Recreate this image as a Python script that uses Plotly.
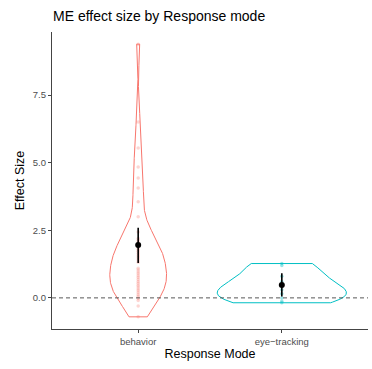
import numpy as np
import plotly.graph_objects as go

# ---- data ----
categories = ["behavior", "eye\u2212tracking"]
behavior_vals = [9.38, 6.5, 5.54, 4.84, 4.43, 4.06, 3.55, 3.0, 2.44,
                 2.2, 2.12, 2.04, 1.96, 1.88, 1.8, 1.72, 1.64, 1.56, 1.48,
                 1.4, 1.32,
                 1.1, 1.03, 0.96, 0.89, 0.82, 0.75, 0.68, 0.61, 0.54, 0.47,
                 0.4, 0.33, 0.26, 0.19, 0.12, 0.05, -0.02, -0.1,
                 -0.3, -0.7]
eye_vals = [1.27, 1.2, 0.8, 0.6, 0.45, 0.3, 0.15, 0.0, -0.12, -0.18]
mean_vals = [1.96, 0.48]
ci_low = [1.29, 0.05]
ci_high = [2.59, 0.91]
y_ticks = [0.0, 2.5, 5.0, 7.5]

# ---- styling ----
series = [behavior_vals, eye_vals]
colors = ["#F8766D", "#00BFC4"]
point_colors = ["rgba(248,118,109,0.3)", "rgba(0,191,196,0.4)"]
bandwidths = [0.65, 0.32]
positions = [1, 2]
violin_width = 0.9


def kde(vals, bw, grid):
    v = np.asarray(vals, dtype=float)
    u = (grid[:, None] - v[None, :]) / bw
    return np.exp(-0.5 * u ** 2).sum(axis=1) / (len(v) * bw * np.sqrt(2 * np.pi))


grids, dens = [], []
for vals, bw in zip(series, bandwidths):
    g = np.linspace(min(vals), max(vals), 512)
    grids.append(g)
    dens.append(kde(vals, bw, g))
max_d = max(d.max() for d in dens)

fig = go.Figure()
for pos, g, d, col in zip(positions, grids, dens, colors):
    half = d / max_d * violin_width / 2
    xs = np.concatenate([pos - half, (pos + half)[::-1], [pos - half[0]]])
    ys = np.concatenate([g, g[::-1], [g[0]]])
    fig.add_trace(go.Scatter(x=xs, y=ys, mode="lines",
                             line=dict(color=col, width=1),
                             hoverinfo="skip", showlegend=False))

for pos, vals, pcol in zip(positions, series, point_colors):
    fig.add_trace(go.Scatter(x=[pos] * len(vals), y=vals, mode="markers",
                             marker=dict(color=pcol, size=3.5, line=dict(width=0)),
                             showlegend=False))

fig.add_trace(go.Scatter(
    x=positions, y=mean_vals, mode="markers",
    marker=dict(color="black", size=6),
    error_y=dict(type="data", symmetric=False,
                 array=[h - m for h, m in zip(ci_high, mean_vals)],
                 arrayminus=[m - l for m, l in zip(mean_vals, ci_low)],
                 width=0, thickness=1.6, color="black"),
    showlegend=False,
))

fig.add_hline(y=0, line=dict(color="#444444", width=0.9, dash="4px,3px"))

fig.update_layout(
    width=372, height=369,
    margin=dict(l=52, r=4, t=32, b=40),
    paper_bgcolor="white", plot_bgcolor="white",
    font=dict(family="Liberation Sans, Arial, sans-serif", color="black"),
    title=dict(text="ME effect size by Response mode", x=53/372, xanchor="left",
               xref="container", yref="container", y=1 - 16/369, yanchor="middle",
               font=dict(size=14, color="black")),
)
fig.update_xaxes(
    range=[0.4, 2.6], tickvals=positions, ticktext=categories,
    showline=True, linecolor="#444444", linewidth=1.3,
    ticks="outside", ticklen=3, tickcolor="#444444", tickwidth=1,
    tickfont=dict(size=9.5, color="#4D4D4D"), showgrid=False, zeroline=False,
    title=dict(text="Response Mode", font=dict(size=12.5), standoff=3),
)
fig.update_yaxes(
    range=[-1.15, 9.83], tickvals=y_ticks, ticktext=[f"{t:.1f}" for t in y_ticks],
    showline=True, linecolor="#444444", linewidth=1.3,
    ticks="outside", ticklen=3, tickcolor="#444444", tickwidth=1,
    tickfont=dict(size=9.5, color="#4D4D4D"), showgrid=False, zeroline=False,
    title=dict(text="Effect Size", font=dict(size=12.5), standoff=5),
)

fig.write_html("out.html")
